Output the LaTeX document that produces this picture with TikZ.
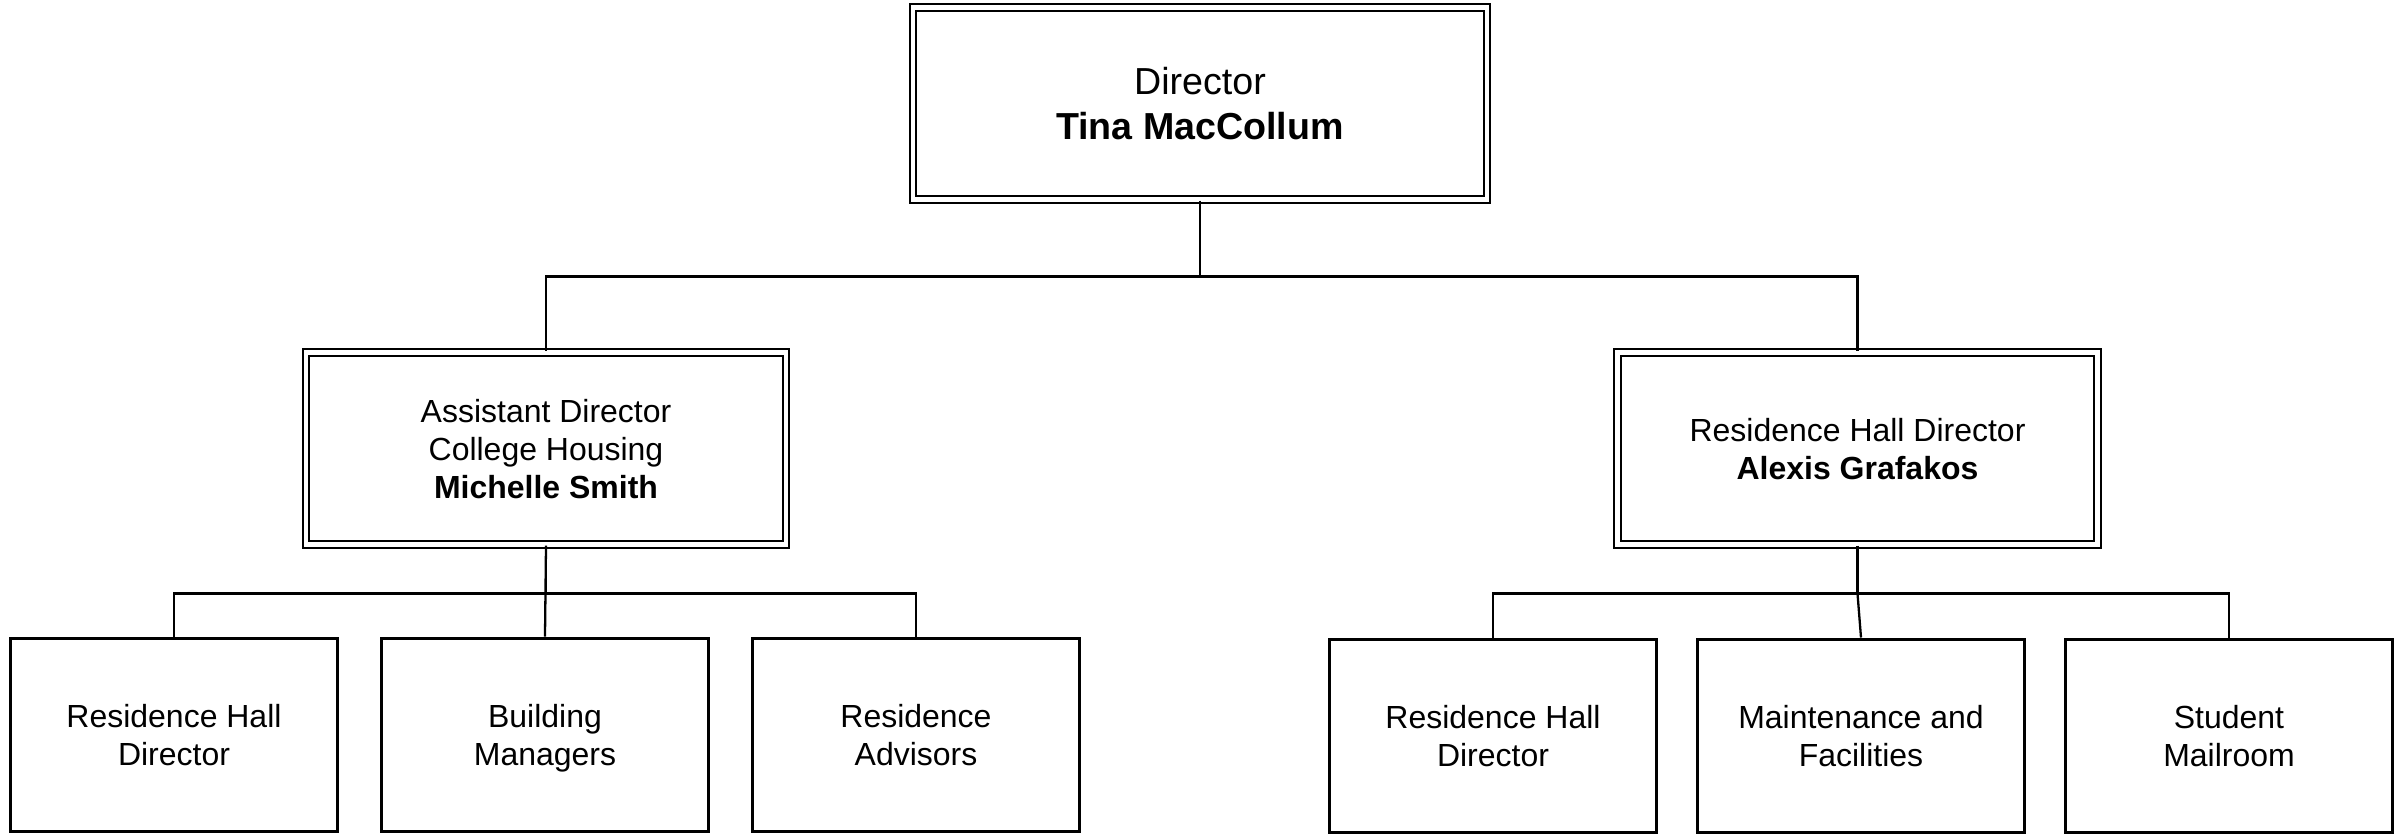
\documentclass[tikz,border=0pt]{standalone}
\usepackage{fontspec}
\setmainfont{Liberation Sans}
\usepackage{tikz}
\usetikzlibrary{positioning}

\begin{document}
\begin{tikzpicture}[
    node distance=0.41cm,
    head/.style   = {rectangle, draw, line width=0.6pt, double,
                     double distance=1.3pt, align=center, text depth=-0.4pt,
                     minimum width=4.8cm, minimum height=1.92cm,
                     font=\fontsize{9.1}{10.8}\selectfont},
    top/.style    = {head, minimum width=5.74cm,
                     font=\fontsize{10.7}{12.8}\selectfont},
    leaf/.style   = {rectangle, draw, line width=0.85pt, align=center,
                     text depth=-0.4pt,
                     minimum width=3.27cm, minimum height=1.93cm,
                     font=\fontsize{9.1}{10.8}\selectfont},
    link/.style   = {draw, line width=0.65pt}
]
\useasboundingbox (0,0) rectangle (24.05,-8.33);

% ========= top =========
\node[top] (director) at (12.0,-1.035) {Director\\\textbf{Tina MacCollum}};

% ========= second row =========
\node[head] (asstdir) at (5.46,-4.485)
    {Assistant Director\\College Housing\\\textbf{Michelle Smith}};
\node[head] (rhdir)   at (18.575,-4.485)
    {Residence Hall Director\\\textbf{Alexis Grafakos}};

% ========= bottom row =========
\node[leaf] (lrhd)  at (1.74,-7.345)       {Residence Hall\\Director};
\node[leaf, right=of lrhd] (bldg)          {Building\\Managers};
\node[leaf, right=of bldg] (ra)            {Residence\\Advisors};

\node[leaf] (rrhd)  at (14.93,-7.355)      {Residence Hall\\Director};
\node[leaf, right=0.38cm of rrhd] (maint)  {Maintenance and\\Facilities};
\node[leaf, right=0.38cm of maint] (mail)  {Student\\Mailroom};

% ========= connectors =========
\draw[link] (director.south) -- ++(0,-0.76) coordinate (hub);
\draw[link] (hub) -| (asstdir.north);
\draw[link] (hub) -| (rhdir.north);

\draw[link] (asstdir.south) -- (bldg.north);
\draw[link] (asstdir.south) -- ++(0,-0.48) coordinate (lhub);
\draw[link] (lhub) -| (lrhd.north);
\draw[link] (lhub) -| (ra.north);

\draw[link] (rhdir.south) -- ++(0,-0.48) coordinate (rhub);
\draw[link] (rhub) -| (rrhd.north);
\draw[link] (rhub) -| (mail.north);
\draw[link] (rhub) -- (maint.north);

\end{tikzpicture}
\end{document}
